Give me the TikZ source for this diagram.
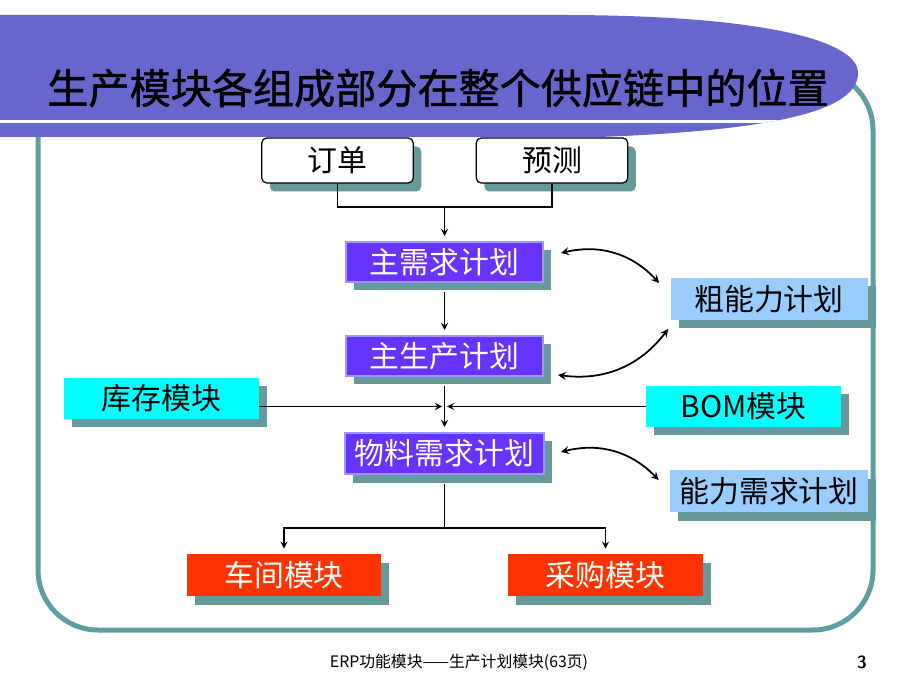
\documentclass[tikz,border=0pt]{standalone}
\usepackage{fontspec}
\usepackage{tikz}
\usetikzlibrary{shapes,arrows,positioning,calc,shadows}
\usepackage{xcolor}
\newfontfamily\cjk{Noto Sans CJK SC}
\newfontfamily\cjkheavy[FakeBold=1.2]{Noto Sans CJK SC}
\definecolor{bannerblue}{RGB}{102,102,204}
\definecolor{frameteal}{RGB}{95,158,160}
\definecolor{shadowteal}{RGB}{102,153,153}
\definecolor{planpurple}{RGB}{102,51,255}
\definecolor{planedge}{RGB}{160,150,255}
\definecolor{capblue}{RGB}{153,204,255}
\definecolor{modcyan}{RGB}{0,255,255}
\definecolor{modred}{RGB}{255,51,0}
\tikzset{
    erpbox/.style={
        rectangle,
        minimum height=0.82cm,
        text centered,
        font=\cjk\fontsize{17}{20}\selectfont,
        drop shadow={shadow xshift=0.16cm, shadow yshift=-0.17cm,
                     fill=shadowteal, opacity=1}
    },
    sourcenode/.style={
        erpbox,
        draw=black,
        fill=white,
        rounded corners=0.1cm,
        line width=0.7pt,
        minimum width=3.03cm,
        minimum height=0.9cm
    },
    plannode/.style={
        erpbox,
        draw=planedge,
        line width=0.04cm,
        fill=planpurple,
        text=white,
        minimum width=3.94cm,
        minimum height=0.8cm
    },
    capnode/.style={
        erpbox,
        fill=capblue,
        minimum width=3.94cm,
        minimum height=0.84cm
    },
    modnode/.style={
        erpbox,
        fill=modcyan,
        minimum width=3.9cm
    },
    outnode/.style={
        erpbox,
        fill=modred,
        text=white,
        minimum width=3.89cm,
        minimum height=0.84cm
    },
    flow/.style={
        ->,
        >=stealth,
        line width=0.8pt,
        shorten >=0.1cm
    },
    feedback/.style={
        <->,
        >=stealth,
        line width=1pt
    }
}

\begin{document}
\begin{tikzpicture}
    \useasboundingbox (0,0) rectangle (18.4,13.8);

    % Slide frame and title banner
    \draw[frameteal, line width=0.1cm, rounded corners=1.2cm]
        (0.76,12.4) rectangle (17.46,1.2);
    \fill[bannerblue] (0,13.5) -- (11.2,13.5)
        .. controls (15.2,13.5) and (17.16,13.0) .. (17.16,12.34)
        .. controls (17.16,11.6) and (15.6,11.2) .. (12.0,11.06)
        -- (0,11.06) -- cycle;
    \begin{scope}
        \clip (0,13.5) -- (11.2,13.5)
            .. controls (15.2,13.5) and (17.16,13.0) .. (17.16,12.34)
            .. controls (17.16,11.6) and (15.6,11.2) .. (12.0,11.06)
            -- (0,11.06) -- cycle;
        \draw[white, line width=0.06cm] (0,11.36) -- (18.4,11.36);
    \end{scope}
    \node[font=\cjkheavy\fontsize{23.4}{27}\selectfont] (title) at (8.76,12.04)
        {生产模块各组成部分在整个供应链中的位置};

    % Inputs
    \node[sourcenode] (order) at (6.75,10.59) {订单};
    \node[sourcenode] (forecast) at (11.04,10.59) {预测};

    % Planning chain
    \node[plannode] (demand) at (8.89,8.56) {主需求计划};
    \node[plannode] (mps) at (8.89,6.68) {主生产计划};
    \node[plannode, minimum width=3.98cm, minimum height=0.82cm] (mrp) at (8.89,4.73) {物料需求计划};

    % Capacity checks
    \node[capnode] (rough) at (15.38,7.82) {粗能力计划};
    \node[capnode, minimum width=3.96cm] (crp) at (15.38,3.98) {能力需求计划};

    % Other modules
    \node[modnode] (inventory) at (3.23,5.83) {库存模块};
    \node[modnode] (bom) at (14.87,5.67) {BOM模块};
    \node[outnode] (shop) at (5.68,2.30) {车间模块};
    \node[outnode, minimum width=3.9cm] (purchase) at (12.11,2.30) {采购模块};

    % Connections
    \coordinate (join) at (8.89,9.66);
    \coordinate (branch) at (8.89,3.24);
    \coordinate (cross) at (mps.south |- bom.west);
    \draw[line width=0.8pt] (order.south) |- (join) -| (forecast.south);
    \draw[flow] (join) -- (demand.north);
    \draw[flow, shorten <=0.18cm] (demand.south) -- (mps.north);
    \draw[flow, shorten <=0.18cm] (mps.south) -- (mrp.north);
    \draw[flow, shorten >=0.05cm] (inventory.east |- bom.west) -- (cross);
    \draw[flow, shorten >=0.05cm] (bom.west) -- (cross);
    \draw[line width=0.8pt, shorten <=0.18cm] (mrp.south) -- (branch);
    \draw[flow] (branch) -| (shop.north);
    \draw[flow] (branch) -| (purchase.north);

    % Capacity feedback loops
    \draw[feedback] ($(demand.east)+(0.34,0.18)$) to[bend left=30] ($(rough.west)+(-0.22,0.32)$);
    \draw[feedback] ($(mps.east)+(0.28,-0.38)$) to[bend right=30] ($(rough.west)+(-0.04,-0.6)$);
    \draw[feedback] ($(mrp.east)+(0.32,0.03)$) to[bend left=30] ($(crp.west)+(-0.22,0.22)$);

    % Footer
    \node[font=\cjk\fontsize{9}{11}\selectfont] (footer) at (9.18,0.56)
        {ERP功能模块——生产计划模块(63页)};
    \node[font=\sffamily\bfseries\fontsize{10}{12}\selectfont] (page) at (17.24,0.56) {3};
\end{tikzpicture}
\end{document}
